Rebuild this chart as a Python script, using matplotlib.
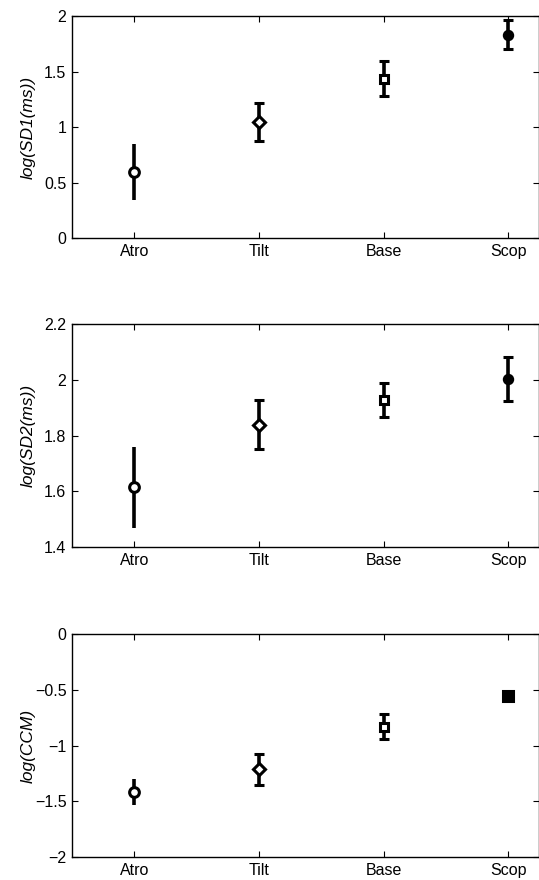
import numpy as np
import matplotlib
matplotlib.use("Agg")
import matplotlib.pyplot as plt

plt.rcParams['font.family'] = ['Liberation Sans', 'DejaVu Sans']

groups = ['Atro', 'Tilt', 'Base', 'Scop']
x = np.arange(1, 5)

# means and half-widths of the error bars
sd1_mean = [0.595, 1.045, 1.435, 1.83]
sd1_err = [0.25, 0.175, 0.16, 0.13]
sd2_mean = [1.614, 1.839, 1.928, 2.004]
sd2_err = [0.145, 0.088, 0.062, 0.08]
ccm_mean = [-1.417, -1.214, -0.831, -0.559]
ccm_err = [0.12, 0.14, 0.11, 0.02]

panels = [
    (sd1_mean, sd1_err, 'log(SD1(ms))', (0, 2), [0, 0.5, 1, 1.5, 2], ['0', '0.5', '1', '1.5', '2'], 'o'),
    (sd2_mean, sd2_err, 'log(SD2(ms))', (1.4, 2.2), [1.4, 1.6, 1.8, 2.0, 2.2], ['1.4', '1.6', '1.8', '2', '2.2'], 'o'),
    (ccm_mean, ccm_err, 'log(CCM)', (-2, 0), [-2, -1.5, -1, -0.5, 0], ['\u22122', '\u22121.5', '\u22121', '\u22120.5', '0'], 's'),
]
# axes boxes in figure fractions: (bottom, height)
boxes = [(0.7295, 0.2523), (0.3784, 0.2529), (0.0261, 0.2534)]
markers_open = ['o', 'D', 's']
sizes_open = [7, 6, 5.5]

fig = plt.figure(figsize=(5.39, 8.80), dpi=100)

for (mean, err, ylab, ylim, yt, ytl, last_marker), (b, h) in zip(panels, boxes):
    ax = fig.add_axes([0.1336, b, 0.867, h])
    for i in range(4):
        if i < 3:
            mk = markers_open[i]
            fc = 'white'
            ms = sizes_open[i]
        else:
            mk = last_marker
            fc = 'black'
            ms = 6 if mk == 'o' else 6.5
        cap = 0 if i == 0 else 3.8
        ax.errorbar(x[i], mean[i], yerr=err[i], fmt=mk, color='black',
                    mfc=fc, mec='black', ms=ms, mew=2.2,
                    elinewidth=2.6, capsize=cap, capthick=2.6)
    ax.set_xlim(0.5, 4.25)
    ax.set_ylim(*ylim)
    ax.set_xticks(x)
    ax.set_xticklabels(groups)
    ax.set_yticks(yt)
    ax.set_yticklabels(ytl)
    ax.tick_params(direction='in', top=True, right=True, length=4,
                   width=0.8, labelsize=11.5, pad=4)
    for s in ax.spines.values():
        s.set_linewidth(1.0)
    ax.set_ylabel(ylab, fontsize=12.5, style='italic')
    ax.yaxis.set_label_coords(-0.077, 0.5)

fig.savefig('out.png', dpi=100)
